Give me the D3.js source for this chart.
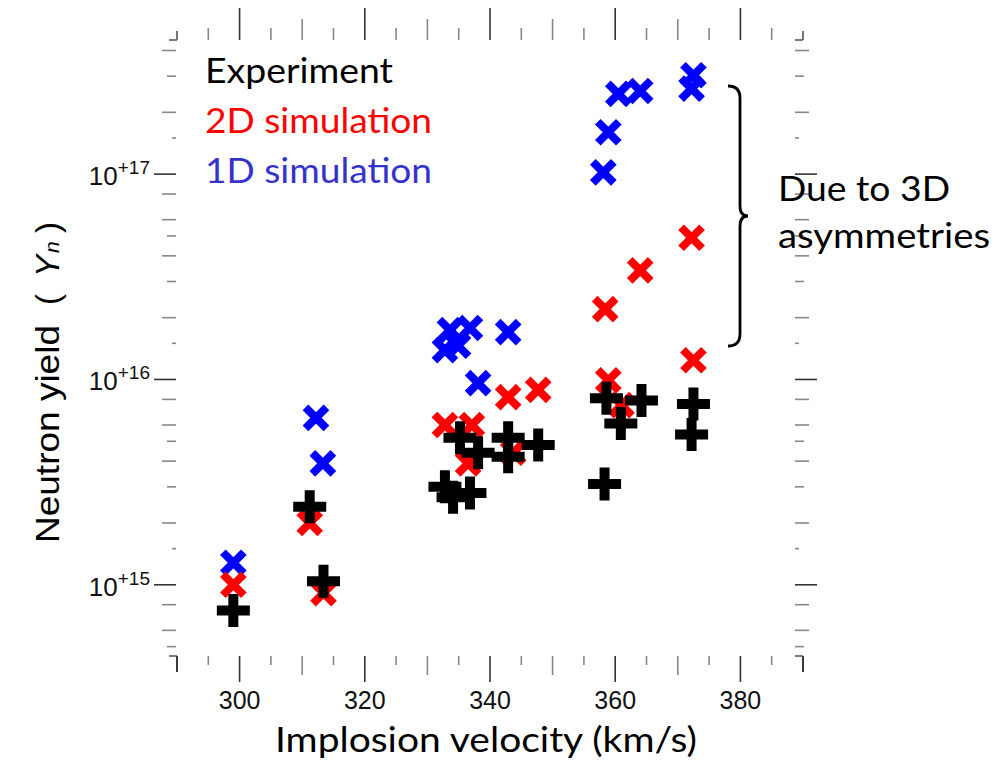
<!DOCTYPE html>
<html>
<head>
<meta charset="utf-8">
<script src="https://cdn.jsdelivr.net/npm/d3@7/dist/d3.min.js"></script>
<style>
  html, body { margin: 0; padding: 0; background: #fff; }
  svg { display: block; }
</style>
</head>
<body>
<svg id="chart" width="1000" height="764"></svg>
<script>
// Neutron yield versus implosion velocity: experiment, 2D and 1D simulations
const expVelocity = [299.0, 311.2, 313.4, 332.8, 334.1, 336.8, 335.2, 338.1, 342.9, 342.9, 347.7, 358.6, 364.2, 360.9, 372.5, 372.2, 358.3];
const expYield    = [7.5e14, 2.4e15, 1.04e15, 3.0e15, 2.67e15, 2.8e15, 5.2e15, 4.4e15, 5.2e15, 4.2e15, 4.8e15, 8.1e15, 7.9e15, 6.1e15, 7.6e15, 5.4e15, 3.1e15];

const sim2dVelocity = [299.0, 311.2, 313.4, 332.8, 337.1, 336.5, 342.9, 347.7, 343.7, 358.4, 364.0, 372.2, 372.5, 358.9, 361.0];
const sim2dYield    = [1.0e15, 2.0e15, 9.1e14, 6.0e15, 6.0e15, 3.9e15, 8.2e15, 8.9e15, 4.4e15, 2.2e16, 3.4e16, 4.9e16, 1.24e16, 9.9e15, 7.5e15];

const sim1dVelocity = [299.0, 312.2, 313.3, 333.6, 336.8, 332.8, 334.9, 338.1, 342.9, 358.1, 358.9, 360.5, 364.0, 372.5, 372.2];
const sim1dYield    = [1.28e15, 6.5e15, 3.9e15, 1.74e16, 1.78e16, 1.39e16, 1.46e16, 9.6e15, 1.7e16, 1.02e17, 1.6e17, 2.46e17, 2.54e17, 3.03e17, 2.61e17];

const xTickLabels = [300, 320, 340, 360, 380];
const yTickExponents = [15, 16, 17];
const legendLabels = ["Experiment", "2D simulation", "1D simulation"];
const noteLines = ["Due to 3D", "asymmetries"];

const svg = d3.select("#chart");
const plotLeft = 177, plotRight = 803, plotTop = 40, plotBottom = 656;

const x = d3.scaleLinear().domain([290, 390]).range([plotLeft, plotRight]);
const y = d3.scaleLog().domain([4.5e14, 4.5e17]).range([plotBottom, plotTop]);

const tickFont = "'Liberation Sans', Arial, sans-serif";
const textFont = "Lato, 'Open Sans', sans-serif";

// ---- x ticks (bottom pointing down, top pointing up) ----
const xMinor = d3.range(295, 390, 5);
function xLen(v, up) {
  if (v % 20 === 0) return up ? 32 : 26;
  if (v % 10 === 0) return up ? 21 : 19;
  return up ? 12 : 9;
}
const xg = svg.append("g");
xMinor.forEach(v => {
  const major = v % 20 === 0;
  xg.append("line").attr("x1", x(v)).attr("x2", x(v))
    .attr("y1", plotBottom).attr("y2", plotBottom + xLen(v, false))
    .attr("stroke", major ? "#333" : "#888").attr("stroke-width", 1.6);
  xg.append("line").attr("x1", x(v)).attr("x2", x(v))
    .attr("y1", plotTop).attr("y2", plotTop - xLen(v, true))
    .attr("stroke", major ? "#333" : "#888").attr("stroke-width", 1.6);
});
// frame corners
[290, 390].forEach(v => {
  xg.append("line").attr("x1", x(v)).attr("x2", x(v)).attr("y1", plotBottom).attr("y2", plotBottom + 16)
    .attr("stroke", "#222").attr("stroke-width", 1.8);
  xg.append("line").attr("x1", x(v)).attr("x2", x(v)).attr("y1", plotTop).attr("y2", plotTop - 9)
    .attr("stroke", "#555").attr("stroke-width", 1.6);
});
xg.selectAll("text.xl").data(xTickLabels).join("text")
  .attr("class", "xl")
  .attr("x", d => x(d)).attr("y", 709)
  .attr("text-anchor", "middle")
  .attr("font-family", tickFont).attr("font-size", 25)
  .attr("fill", "#111").text(d => d);

// ---- y ticks (left pointing left, right pointing right) ----
const mantissas = [1, 1.5, 2, 3, 4, 5, 6, 8];
const yTicks = [];
[14, 15, 16, 17].forEach(e => mantissas.forEach(m => {
  const v = m * Math.pow(10, e);
  if (v >= 4.5e14 && v <= 4.5e17) yTicks.push({ v, m });
}));
function yLen(m) {
  if (m === 1) return 22;
  if (m === 1.5) return 4;
  if (m === 3 || m === 5) return 9;
  return 14;
}
const yg = svg.append("g");
yTicks.forEach(t => {
  const col = t.m === 1 ? "#333" : "#888";
  yg.append("line").attr("x1", plotLeft - 1).attr("x2", plotLeft - 1 - yLen(t.m))
    .attr("y1", y(t.v)).attr("y2", y(t.v)).attr("stroke", col).attr("stroke-width", 1.6);
  yg.append("line").attr("x1", plotRight - 8).attr("x2", plotRight - 8 + yLen(t.m))
    .attr("y1", y(t.v)).attr("y2", y(t.v)).attr("stroke", col).attr("stroke-width", 1.6);
});
[4.5e14, 4.5e17].forEach(v => {
  yg.append("line").attr("x1", plotLeft).attr("x2", plotLeft - 8).attr("y1", y(v)).attr("y2", y(v))
    .attr("stroke", "#555").attr("stroke-width", 1.6);
  yg.append("line").attr("x1", plotRight - 8).attr("x2", plotRight).attr("y1", y(v)).attr("y2", y(v))
    .attr("stroke", "#555").attr("stroke-width", 1.6);
});
yTickExponents.forEach(e => {
  const t = yg.append("text")
    .attr("x", 150).attr("y", y(Math.pow(10, e)) + 11)
    .attr("text-anchor", "end")
    .attr("font-family", tickFont).attr("fill", "#111");
  t.append("tspan").attr("font-size", 26).text("10");
  t.append("tspan").attr("font-size", 19).attr("dy", -11).text("+" + e);
});

// ---- markers ----
const crossPath = s => `M${-s},${-s}L${s},${s}M${-s},${s}L${s},${-s}`;
const plusPath = s => `M${-s},0L${s},0M0,${-s}L0,${s}`;

function drawSeries(vx, vy, color, path, width) {
  svg.append("g").selectAll("path").data(vx.map((v, i) => [v, vy[i]])).join("path")
    .attr("transform", d => `translate(${x(d[0])},${y(d[1])})`)
    .attr("d", path)
    .attr("fill", "none")
    .attr("stroke", color)
    .attr("stroke-width", width);
}
drawSeries(sim1dVelocity, sim1dYield, "#0000ff", crossPath(10.5), 8);
drawSeries(sim2dVelocity, sim2dYield, "#ff0000", crossPath(10.5), 8);
drawSeries(expVelocity, expYield, "#000000", plusPath(16.5), 10);

// ---- legend ----
const legendColors = ["#000000", "#ff0000", "#3333cc"];
svg.append("g").selectAll("text").data(legendLabels).join("text")
  .attr("x", 205).attr("y", (d, i) => 83 + i * 50)
  .attr("font-family", textFont).attr("font-size", 35)
  .attr("fill", (d, i) => legendColors[i])
  .attr("textLength", (d, i) => i === 0 ? 188 : 227)
  .attr("lengthAdjust", "spacingAndGlyphs")
  .text(d => d);

// ---- axis titles ----
svg.append("text")
  .attr("x", 486).attr("y", 752)
  .attr("text-anchor", "middle")
  .attr("font-family", textFont).attr("font-size", 35)
  .attr("textLength", 422).attr("lengthAdjust", "spacingAndGlyphs")
  .attr("fill", "#000")
  .text("Implosion velocity (km/s)");

const yTitle = svg.append("g").attr("transform", "translate(59,543) rotate(-90)");
yTitle.append("text").attr("x", 0).attr("y", 0)
  .attr("font-family", tickFont).attr("font-size", 33)
  .attr("textLength", 218).attr("lengthAdjust", "spacingAndGlyphs")
  .text("Neutron yield");
yTitle.append("text").attr("x", 238).attr("y", 0)
  .attr("font-family", tickFont).attr("font-size", 33).text("(");
yTitle.append("text").attr("x", 266).attr("y", 0)
  .attr("font-family", tickFont).attr("font-size", 33).attr("font-style", "italic").text("Y");
yTitle.append("text").attr("x", 290).attr("y", 0)
  .attr("font-family", tickFont).attr("font-size", 21).attr("font-style", "italic").text("n");
yTitle.append("text").attr("x", 310).attr("y", 0)
  .attr("font-family", tickFont).attr("font-size", 33).text(")");

// ---- brace and note ----
const bx = 740, by0 = 86, by1 = 346, bm = (by0 + by1) / 2;
svg.append("path")
  .attr("d", `M${bx - 12},${by0} Q${bx},${by0} ${bx},${by0 + 12} L${bx},${bm - 10} Q${bx},${bm} ${bx + 8},${bm} Q${bx},${bm} ${bx},${bm + 10} L${bx},${by1 - 12} Q${bx},${by1} ${bx - 12},${by1}`)
  .attr("fill", "none").attr("stroke", "#000").attr("stroke-width", 2.8);

svg.append("g").selectAll("text").data(noteLines).join("text")
  .attr("x", 778).attr("y", (d, i) => 201 + i * 47)
  .attr("font-family", textFont).attr("font-size", 35)
  .attr("textLength", (d, i) => i === 0 ? 172 : 212)
  .attr("lengthAdjust", "spacingAndGlyphs")
  .attr("fill", "#000")
  .text(d => d);
</script>
</body>
</html>
